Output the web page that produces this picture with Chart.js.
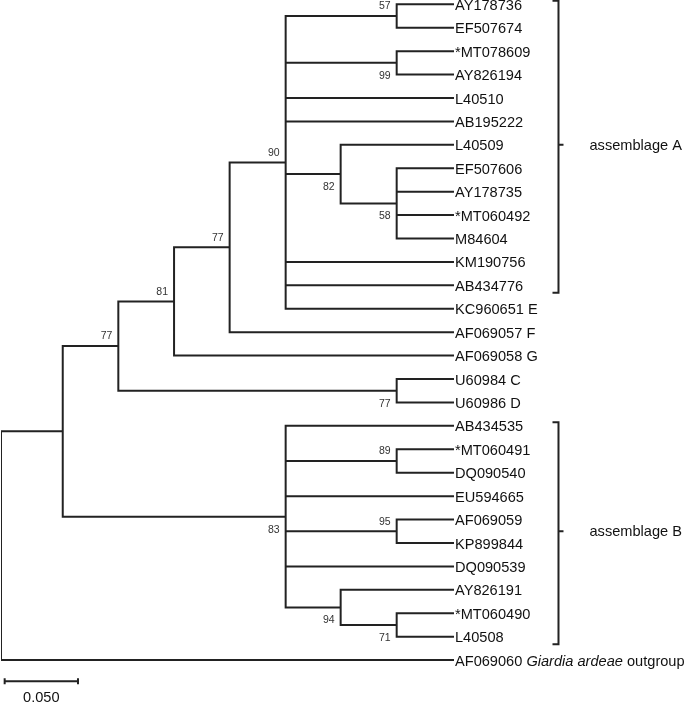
<!DOCTYPE html>
<html>
<head>
<meta charset="utf-8">
<script src="https://cdn.jsdelivr.net/npm/chart.js@4.4.1/dist/chart.umd.min.js"></script>
<style>
  html, body { margin: 0; padding: 0; background: #fff; }
  #wrap { position: relative; width: 685px; height: 702px; }
</style>
</head>
<body>
<div id="wrap"><canvas id="tree"></canvas></div>
<script>
// ---- tree data ----
// leaves, top to bottom; text between underscores is italic
const leafNames = [
  "AY178736", "EF507674", "*MT078609", "AY826194", "L40510", "AB195222",
  "L40509", "EF507606", "AY178735", "*MT060492", "M84604", "KM190756",
  "AB434776", "KC960651 E", "AF069057 F", "AF069058 G", "U60984 C", "U60986 D",
  "AB434535", "*MT060491", "DQ090540", "EU594665", "AF069059", "KP899844",
  "DQ090539", "AY826191", "*MT060490", "L40508",
  "AF069060 _Giardia ardeae_ outgroup"
];
// parent node of every leaf (index into node arrays)
const leafParent = [6, 6, 7, 7, 5, 5, 8, 9, 9, 9, 9, 5, 5, 5, 4, 3, 10, 10,
                    11, 12, 12, 11, 13, 13, 11, 14, 15, 15, 0];
// distance from root of each leaf
const leafDepth = [0.3082, 0.3082, 0.3082, 0.3082, 0.3082, 0.3082, 0.3082, 0.3082,
                   0.3082, 0.3082, 0.3082, 0.3082, 0.3082, 0.3082, 0.3082, 0.3082,
                   0.3082, 0.3082, 0.3082, 0.3082, 0.3082, 0.3082, 0.3082, 0.3082,
                   0.3082, 0.3082, 0.3082, 0.3082, 0.3082];

// internal nodes: 0 = root
const nodeParent = [-1, 0, 1, 2, 3, 4, 5, 5, 5, 8, 2, 1, 11, 11, 11, 14];
const nodeDepth = [0, 0.0421, 0.0800, 0.1180, 0.1559, 0.1941, 0.2698, 0.2698,
                   0.2316, 0.2698, 0.2698, 0.1941, 0.2698, 0.2698, 0.2316, 0.2698];
const nodeSupport = [null, null, 77, 81, 77, 90, 57, 99, 82, 58, 77, 83, 89, 95, 94, 71];

// brackets
const groupNames = ["assemblage A", "assemblage B"];
const groupFirst = [0, 18];
const groupLast = [12, 27];

// scale bar
const scaleBarLength = 0.05;
const scaleBarLabel = "0.050";

// ---- layout helpers ----
const LINE = "#222";
const TEXT = "#111";
const FONT = "Liberation Sans, Arial, Helvetica, sans-serif";
// nodes whose bootstrap value sits under the branch
const supportBelow = [7, 8, 9, 10, 11, 14, 15];

// y of every node = middle of its first and last child
const nodeY = nodeDepth.map(() => null);
function childYs(k){
  const ys = [];
  leafParent.forEach((p, i) => { if (p === k) ys.push(i); });
  nodeParent.forEach((p, j) => { if (p === k) ys.push(calcY(j)); });
  return ys;
}
function calcY(k){
  if (nodeY[k] != null) return nodeY[k];
  const ys = childYs(k);
  nodeY[k] = (Math.min(...ys) + Math.max(...ys)) / 2;
  return nodeY[k];
}
nodeDepth.forEach((_, k) => calcY(k));

// branch segments, separated by NaN points
const segs = [];
function seg(x0, y0, x1, y1){
  segs.push({x: x0, y: y0}, {x: x1, y: y1}, {x: NaN, y: NaN});
}
leafNames.forEach((_, i) => seg(nodeDepth[leafParent[i]], i, leafDepth[i], i));
nodeDepth.forEach((d, k) => {
  if (k > 0) seg(nodeDepth[nodeParent[k]], nodeY[k], d, nodeY[k]);
  const ys = childYs(k);
  seg(d, Math.min(...ys), d, Math.max(...ys));
});

// ---- annotations plugin ----
const treeText = {
  id: "treeText",
  afterDatasetsDraw(chart){
    const ctx = chart.ctx;
    const xs = chart.scales.x, ys = chart.scales.y;
    ctx.save();

    // leaf labels
    ctx.fillStyle = TEXT;
    ctx.textBaseline = "middle";
    ctx.textAlign = "left";
    leafNames.forEach((name, i) => {
      let px = xs.getPixelForValue(leafDepth[i]) + 2;
      const py = ys.getPixelForValue(i) + 1.5;
      name.split("_").forEach((part, n) => {
        ctx.font = (n % 2 ? "italic " : "") + "14.6px " + FONT;
        ctx.fillText(part, px, py);
        px += ctx.measureText(part).width;
      });
    });

    // bootstrap values
    ctx.font = "10.5px " + FONT;
    ctx.fillStyle = "#333";
    ctx.textAlign = "right";
    nodeSupport.forEach((v, k) => {
      if (v == null) return;
      const px = xs.getPixelForValue(nodeDepth[k]) - 6;
      const py = ys.getPixelForValue(nodeY[k]) + (supportBelow.includes(k) ? 13 : -9.5);
      ctx.fillText(String(v), px, py);
    });

    // brackets
    const bx = xs.getPixelForValue(leafDepth[0]) + 105.5;
    ctx.strokeStyle = LINE;
    ctx.lineWidth = 2;
    ctx.font = "14.6px " + FONT;
    ctx.fillStyle = TEXT;
    ctx.textAlign = "left";
    groupNames.forEach((g, n) => {
      const top = ys.getPixelForValue(groupFirst[n] - 0.15);
      const bot = ys.getPixelForValue(groupLast[n] + 0.32);
      const mid = ys.getPixelForValue((groupFirst[n] + groupLast[n]) / 2);
      ctx.beginPath();
      ctx.moveTo(bx - 6, top); ctx.lineTo(bx, top);
      ctx.lineTo(bx, bot); ctx.lineTo(bx - 6, bot);
      ctx.moveTo(bx, mid); ctx.lineTo(bx + 5, mid);
      ctx.stroke();
      ctx.fillText(g, bx + 31, mid + 1);
    });

    // scale bar
    const sy = ys.getPixelForValue(leafNames.length - 1 + 0.9);
    const s0 = xs.getPixelForValue(0.0025);
    const s1 = xs.getPixelForValue(0.0025 + scaleBarLength);
    ctx.beginPath();
    ctx.moveTo(s0, sy); ctx.lineTo(s1, sy);
    ctx.moveTo(s0, sy - 3); ctx.lineTo(s0, sy + 3);
    ctx.moveTo(s1, sy - 3); ctx.lineTo(s1, sy + 3);
    ctx.stroke();
    ctx.textAlign = "center";
    ctx.fillText(scaleBarLabel, (s0 + s1) / 2, sy + 16.5);

    ctx.restore();
  }
};

new Chart(document.getElementById("tree"), {
  type: "scatter",
  data: {
    datasets: [{
      data: segs,
      showLine: true,
      spanGaps: false,
      borderColor: LINE,
      borderWidth: 2,
      borderCapStyle: "square",
      pointRadius: 0,
      pointHoverRadius: 0
    }]
  },
  options: {
    responsive: true,
    maintainAspectRatio: false,
    animation: false,
    layout: { padding: { left: 1, right: 0, top: 0, bottom: 0 } },
    plugins: { legend: { display: false }, tooltip: { enabled: false } },
    scales: {
      x: { type: "linear", display: false, min: 0, max: 0.4664 },
      y: { type: "linear", display: false, reverse: true, min: -0.1836, max: 29.79 }
    }
  },
  plugins: [treeText]
});
</script>
</body>
</html>
